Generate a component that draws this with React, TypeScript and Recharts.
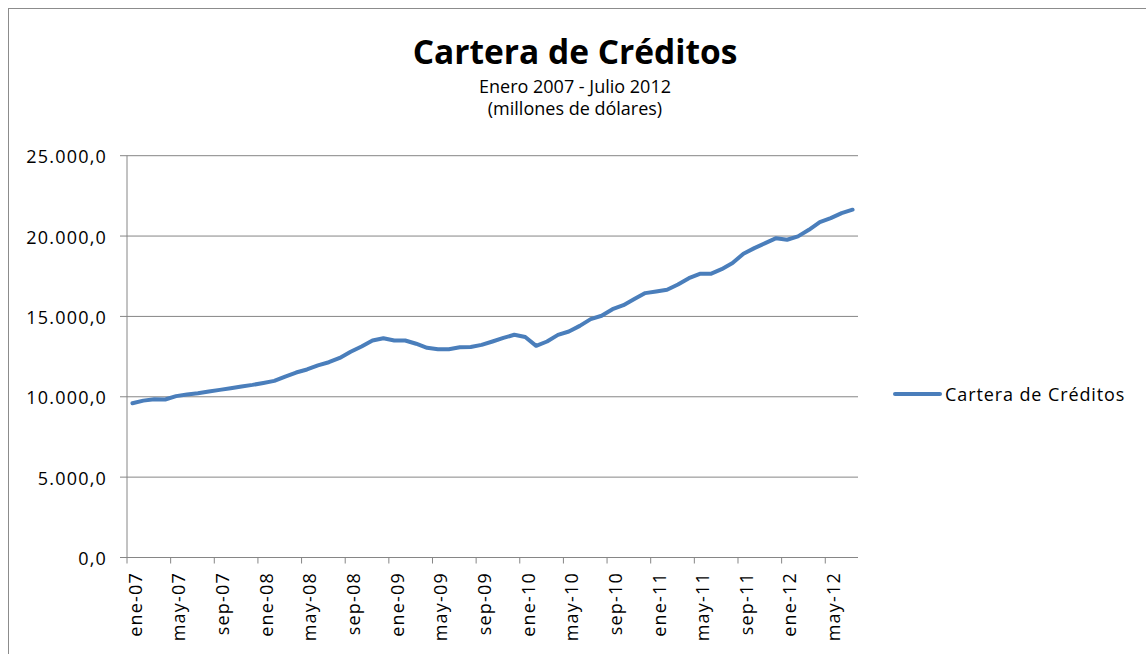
import { LineChart, Line, XAxis, YAxis, CartesianGrid, Legend } from "recharts";

const months = [
  "ene-07", "feb-07", "mar-07", "abr-07", "may-07", "jun-07", "jul-07", "ago-07", "sep-07", "oct-07", "nov-07", "dic-07",
  "ene-08", "feb-08", "mar-08", "abr-08", "may-08", "jun-08", "jul-08", "ago-08", "sep-08", "oct-08", "nov-08", "dic-08",
  "ene-09", "feb-09", "mar-09", "abr-09", "may-09", "jun-09", "jul-09", "ago-09", "sep-09", "oct-09", "nov-09", "dic-09",
  "ene-10", "feb-10", "mar-10", "abr-10", "may-10", "jun-10", "jul-10", "ago-10", "sep-10", "oct-10", "nov-10", "dic-10",
  "ene-11", "feb-11", "mar-11", "abr-11", "may-11", "jun-11", "jul-11", "ago-11", "sep-11", "oct-11", "nov-11", "dic-11",
  "ene-12", "feb-12", "mar-12", "abr-12", "may-12", "jun-12", "jul-12",
];

// millones de dólares
const cartera = [
  9600, 9760, 9850, 9830, 10040, 10140, 10220, 10330, 10430, 10530, 10640, 10740,
  10860, 10990, 11260, 11510, 11700, 11950, 12150, 12420, 12800, 13130, 13500, 13640,
  13500, 13500, 13300, 13050, 12960, 12960, 13080, 13100, 13230, 13440, 13660, 13860,
  13720, 13170, 13440, 13850, 14060, 14410, 14830, 15040, 15450, 15700, 16080, 16450,
  16550, 16660, 16990, 17380, 17650, 17650, 17940, 18320, 18900, 19250, 19560, 19870,
  19770, 19980, 20390, 20870, 21120, 21430, 21640,
];

const yTicks = [0, 5000, 10000, 15000, 20000, 25000];

const data = months.map((m, i) => ({ mes: m, cartera: cartera[i] }));

const GRAY = "#868686";
const BLUE = "#4a7ebb";
const FONT = "'Open Sans', sans-serif";

const W = 1130;
const H = 640;
const PLOT_LEFT = 118;
const PLOT_RIGHT = 849;
const BAND = (PLOT_RIGHT - PLOT_LEFT) / months.length;

const fmt = (v: number) =>
  Math.round(v).toString().replace(/\B(?=(\d{3})+(?!\d))/g, ".") + ",0";

const MonthTick = (props: any) => {
  const { x, y, payload } = props;
  const half = payload && payload.offset ? payload.offset : BAND / 2;
  return (
    <g>
      <line x1={x - half} x2={x - half} y1={y - 6} y2={y} stroke={GRAY} />
      <text
        transform={`translate(${x + 9.4},${y + 8.5}) rotate(-90)`}
        textAnchor="end"
        fontFamily={FONT}
        fontSize={18}
        fill="#000"
        style={{ letterSpacing: "1.2px" }}
      >
        {payload.value}
      </text>
    </g>
  );
};

const ValueTick = (props: any) => {
  const { x, y, payload } = props;
  return (
    <text
      x={x}
      y={y}
      dy={7.7}
      textAnchor="end"
      fontFamily={FONT}
      fontSize={18}
      fill="#000"
      style={{ letterSpacing: "1.2px" }}
    >
      {fmt(payload.value)}
    </text>
  );
};

const renderLegend = () => (
  <div style={{ display: "flex", alignItems: "center", height: 20 }}>
    <svg width={52} height={20}>
      <line x1={2} x2={47} y1={10} y2={10} stroke={BLUE} strokeWidth={4} strokeLinecap="round" />
    </svg>
    <span
      style={{
        fontFamily: FONT,
        fontSize: 18,
        lineHeight: "20px",
        letterSpacing: "0.9px",
        color: "#000",
        marginLeft: 0,
        whiteSpace: "nowrap",
      }}
    >
      Cartera de Créditos
    </span>
  </div>
);

export default function App() {
  return (
    <div
      style={{
        position: "fixed",
        left: 0,
        top: 0,
        width: 1146,
        height: 654,
        overflow: "hidden",
        background: "#fff",
      }}
    >
      <div
        style={{
          position: "absolute",
          left: 8,
          top: 8,
          width: 1200,
          height: 700,
          border: "1px solid #8c8c8c",
          boxSizing: "border-box",
          background: "#fff",
        }}
      >
        <div
          style={{
            position: "absolute",
            left: 0,
            top: 22,
            width: 1132,
            textAlign: "center",
            fontFamily: FONT,
            fontWeight: 700,
            fontSize: 33.5,
            lineHeight: "40px",
            color: "#000",
          }}
        >
          Cartera de Créditos
        </div>
        <div
          style={{
            position: "absolute",
            left: 0,
            top: 66.3,
            width: 1132,
            textAlign: "center",
            fontFamily: FONT,
            fontSize: 18,
            lineHeight: "22px",
            color: "#000",
          }}
        >
          Enero 2007 - Julio 2012
          <br />
          (millones de dólares)
        </div>
        <div style={{ position: "absolute", left: 0, top: 0 }}>
          <LineChart
            width={W}
            height={H}
            data={data}
            margin={{ top: 146.7, right: W - PLOT_RIGHT, bottom: 1.5, left: 0 }}
          >
            <CartesianGrid vertical={false} stroke={GRAY} strokeWidth={1} />
            <XAxis
              dataKey="mes"
              scale="band"
              interval={3}
              height={90}
              tickSize={6}
              tickMargin={0}
              tickLine={false}
              axisLine={{ stroke: GRAY }}
              tick={<MonthTick />}
            />
            <YAxis
              width={PLOT_LEFT}
              domain={[0, 25000]}
              ticks={yTicks}
              interval={0}
              tickSize={7}
              tickMargin={13}
              tickLine={{ stroke: GRAY }}
              axisLine={{ stroke: GRAY }}
              tick={<ValueTick />}
            />
            <Legend
              layout="horizontal"
              verticalAlign="middle"
              align="center"
              content={renderLegend}
              wrapperStyle={{ left: 884, top: 375, width: 260, height: 20 }}
            />
            <Line
              type="linear"
              dataKey="cartera"
              name="Cartera de Créditos"
              stroke={BLUE}
              strokeWidth={4}
              strokeLinejoin="round"
              strokeLinecap="round"
              dot={false}
              activeDot={false}
              isAnimationActive={false}
            />
          </LineChart>
        </div>
      </div>
    </div>
  );
}
